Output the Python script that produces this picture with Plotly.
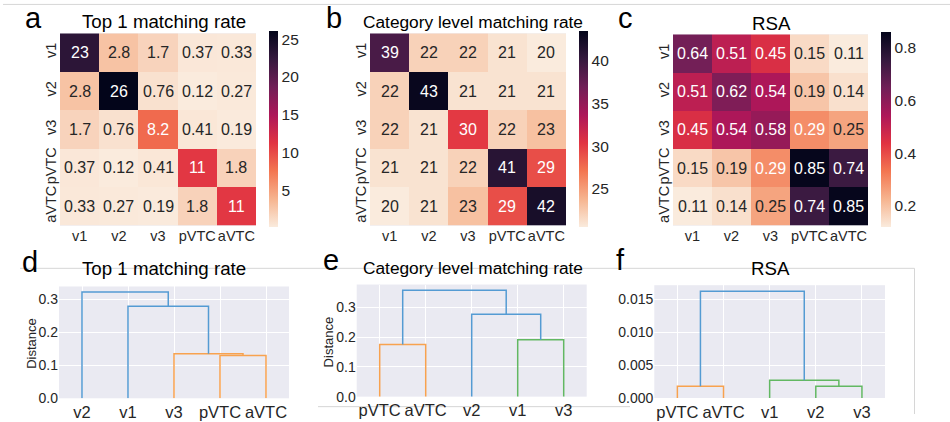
import plotly.graph_objects as go

W, H = 950, 422

# ---------------- data ----------------
labels = ["v1", "v2", "v3", "pVTC", "aVTC"]

top1 = [[23, 2.8, 1.7, 0.37, 0.33],
        [2.8, 26, 0.76, 0.12, 0.27],
        [1.7, 0.76, 8.2, 0.41, 0.19],
        [0.37, 0.12, 0.41, 11, 1.8],
        [0.33, 0.27, 0.19, 1.8, 11]]
category = [[39, 22, 22, 21, 20],
            [22, 43, 21, 21, 21],
            [22, 21, 30, 22, 23],
            [21, 21, 22, 41, 29],
            [20, 21, 23, 29, 42]]
rsa = [[0.64, 0.51, 0.45, 0.15, 0.11],
       [0.51, 0.62, 0.54, 0.19, 0.14],
       [0.45, 0.54, 0.58, 0.29, 0.25],
       [0.15, 0.19, 0.29, 0.85, 0.74],
       [0.11, 0.14, 0.25, 0.74, 0.85]]

top1_cbar = [5, 10, 15, 20, 25]
category_cbar = [25, 30, 35, 40]
rsa_cbar = [0.2, 0.4, 0.6, 0.8]
top1_lim = (0.12, 26.0)
category_lim = (20.5, 43.4)
rsa_lim = (0.118, 0.857)

# dendrograms: leaf order, merges (left, right, height), link colour key
d_leaves = ["v2", "v1", "v3", "pVTC", "aVTC"]
d_merges = [("pVTC", "aVTC", 0.129), ("v3", 0, 0.135), ("v1", 1, 0.278), ("v2", 2, 0.321)]
d_colors = ["C1", "C1", "C0", "C0"]
d_yticks = [0.0, 0.1, 0.2, 0.3]

e_leaves = ["pVTC", "aVTC", "v2", "v1", "v3"]
e_merges = [("pVTC", "aVTC", 0.175), ("v1", "v3", 0.191), ("v2", 1, 0.277), (0, 2, 0.358)]
e_colors = ["C1", "C2", "C0", "C0"]
e_yticks = [0.0, 0.1, 0.2, 0.3]

f_leaves = ["pVTC", "aVTC", "v1", "v2", "v3"]
f_merges = [("pVTC", "aVTC", 0.00178), ("v2", "v3", 0.00180), ("v1", 1, 0.00268), (0, 2, 0.0162)]
f_colors = ["C1", "C2", "C2", "C0"]
f_yticks = [0.0, 0.005, 0.010, 0.015]

# ---------------- styles ----------------
FONT = "Liberation Sans, Arial, Helvetica, sans-serif"
TXT = "#262626"
link_palette = {"C0": "#549bd3", "C1": "#f8a24f", "C2": "#62b862"}

rocket_r = [(0.0, "#faebdd"), (1 / 7, "#f6b48f"), (2 / 7, "#f37651"), (3 / 7, "#e13342"),
            (4 / 7, "#ad1759"), (5 / 7, "#701f57"), (6 / 7, "#35193e"), (1.0, "#03051a")]


def hex2rgb(h):
    h = h.lstrip("#")
    return [int(h[i:i + 2], 16) for i in (0, 2, 4)]


def cmap(p):
    p = min(max(p, 0), 1)
    for (p0, c0), (p1, c1) in zip(rocket_r[:-1], rocket_r[1:]):
        if p <= p1:
            t = (p - p0) / (p1 - p0)
            a, b = hex2rgb(c0), hex2rgb(c1)
            return [a[i] + t * (b[i] - a[i]) for i in range(3)]
    return hex2rgb(rocket_r[-1][1])


def luminance(rgb):
    out = []
    for c in rgb:
        c = c / 255
        out.append(c / 12.92 if c <= 0.03928 else ((c + 0.055) / 1.055) ** 2.4)
    return 0.2126 * out[0] + 0.7152 * out[1] + 0.0722 * out[2]


def px(x):
    return x / W


def py(y):
    return 1 - y / H


fig = go.Figure()
annotations = []
shapes = []

heatmaps = [
    (top1, top1_lim, top1_cbar, (60, 256, 34, 230), 269, 9),
    (category, category_lim, category_cbar, (370, 566, 34, 230), 579, 9),
    (rsa, rsa_lim, rsa_cbar, (673, 868, 35, 230), 881, 10),
]

layout_axes = {}
for k, (z, lim, cticks, (x0, x1, y0, y1), cbx, cbw) in enumerate(heatmaps):
    idx = k + 1
    xa = "x" if idx == 1 else f"x{idx}"
    ya = "y" if idx == 1 else f"y{idx}"
    fig.add_trace(go.Heatmap(
        z=z, x=labels, y=labels, xaxis=xa, yaxis=ya,
        zmin=lim[0], zmax=lim[1],
        colorscale=[[p, c] for p, c in rocket_r],
        hoverinfo="skip",
        colorbar=dict(
            x=px(cbx), xanchor="left", xpad=0, ypad=0,
            y=py((y0 + y1) / 2), yanchor="middle",
            len=y1 - y0, lenmode="pixels",
            thickness=cbw, thicknessmode="pixels",
            outlinewidth=0, ticks="", tickvals=cticks,
            ticktext=[format(t, "g") for t in cticks],
            tickfont=dict(size=15.5, color=TXT, family=FONT),
        ),
    ))
    for i, row in enumerate(z):
        for j, v in enumerate(row):
            p = (v - lim[0]) / (lim[1] - lim[0])
            col = TXT if luminance(cmap(p)) > 0.408 else "white"
            annotations.append(dict(
                x=labels[j], y=labels[i], xref=xa, yref=ya, text=format(v, ".2g"),
                showarrow=False, font=dict(size=16, color=col, family=FONT)))
    axkey = "xaxis" if idx == 1 else f"xaxis{idx}"
    aykey = "yaxis" if idx == 1 else f"yaxis{idx}"
    layout_axes[axkey] = dict(domain=[px(x0), px(x1)], anchor=ya, showgrid=False,
                              zeroline=False, ticks="", showline=False, tickangle=0,
                              tickfont=dict(size=14.5, color=TXT, family=FONT))
    layout_axes[aykey] = dict(domain=[py(y1), py(y0)], anchor=xa, showgrid=False,
                              zeroline=False, ticks="", showline=False, autorange="reversed",
                              tickangle=-90,
                              tickfont=dict(size=14.5, color=TXT, family=FONT))

dendros = [
    (d_leaves, d_merges, d_colors, d_yticks, "{:.1f}", (59, 289, 292, 406), 0.338),
    (e_leaves, e_merges, e_colors, e_yticks, "{:.1f}", (356.7, 586.7, 290, 404.3), 0.377),
    (f_leaves, f_merges, f_colors, f_yticks, "{:.3f}", (654.3, 885, 290.7, 405.7), 0.0171),
]

for k, (leaves, merges, colors, yticks, fmt, (x0, x1, y0, y1), ytop) in enumerate(dendros):
    idx = k + 4
    xa, ya = f"x{idx}", f"y{idx}"
    pos = {name: 5 + 10 * i for i, name in enumerate(leaves)}
    hgt = {name: 0.0 for name in leaves}
    for m, (left, right, h) in enumerate(merges):
        xl, xr = pos[left], pos[right]
        hl, hr = hgt[left], hgt[right]
        fig.add_trace(go.Scatter(
            x=[xl, xl, xr, xr], y=[hl, h, h, hr], mode="lines", xaxis=xa, yaxis=ya,
            line=dict(color=link_palette[colors[m]], width=1.5), hoverinfo="skip",
            showlegend=False))
        pos[m] = (xl + xr) / 2
        hgt[m] = h
    layout_axes[f"xaxis{idx}"] = dict(
        domain=[px(x0), px(x1)], anchor=ya, range=[0, 10 * len(leaves)],
        tickvals=[5 + 10 * i for i in range(len(leaves))], ticktext=leaves, tickangle=0,
        showgrid=True, gridcolor="white", gridwidth=1, zeroline=False, ticks="",
        ticklabelstandoff=2,
        showline=False, tickfont=dict(size=16.5, color=TXT, family=FONT))
    layout_axes[f"yaxis{idx}"] = dict(
        domain=[py(y1), py(y0)], anchor=xa, range=[0, ytop],
        tickvals=yticks, ticktext=[fmt.format(t) for t in yticks],
        showgrid=True, gridcolor="white", gridwidth=1, zeroline=False, ticks="",
        showline=False, tickfont=dict(size=14, color=TXT, family=FONT))

# "Distance" axis labels
for x, y in [(32, 350.5), (328, 349)]:
    annotations.append(dict(text="Distance", x=px(x), y=py(y), xref="paper", yref="paper",
                            xanchor="center", yanchor="middle", textangle=-90, showarrow=False,
                            font=dict(size=13, color=TXT, family=FONT)))

# titles
titles = [("Top 1 matching rate", 164, 28, 18.7), ("Category level matching rate", 472.5, 28, 17.3),
          ("RSA", 771, 30, 18.7), ("Top 1 matching rate", 164, 280, 18.7),
          ("Category level matching rate", 472.5, 279.5, 17.3), ("RSA", 770.3, 280, 18.7)]
for t, x, base, ts in titles:
    annotations.append(dict(text=t, x=px(x), y=py(base - 0.35 * ts), xref="paper", yref="paper",
                            xanchor="center", yanchor="middle", showarrow=False,
                            font=dict(size=ts, color="black", family=FONT)))

LS = 29
letters = [("a", 33.5, 28), ("b", 333.5, 29), ("c", 625, 28),
           ("d", 30.5, 277), ("e", 330.5, 275), ("f", 620.5, 275)]
for t, x, base in letters:
    annotations.append(dict(text=t, x=px(x), y=py(base - 0.35 * LS), xref="paper", yref="paper",
                            xanchor="center", yanchor="middle", showarrow=False,
                            font=dict(size=LS, color="black", family=FONT)))

# panel frame lines
frame = [(3, 4.5, 950, 4.5), (20, 273.5, 914.5, 273.5), (914.5, 273.5, 914.5, 422),
         (318, 414.5, 630, 414.5)]
for (xa0, ya0, xa1, ya1) in frame:
    shapes.append(dict(type="line", xref="paper", yref="paper", x0=px(xa0), y0=py(ya0),
                       x1=px(xa1), y1=py(ya1), line=dict(color="#d6d6d6", width=1),
                       layer="below"))

fig.update_layout(
    width=W, height=H, margin=dict(l=0, r=0, t=0, b=0),
    paper_bgcolor="white", plot_bgcolor="#EAEAF2",
    showlegend=False, annotations=annotations, shapes=shapes,
    font=dict(family=FONT, color=TXT),
    **layout_axes,
)

fig.write_html("out.html")
